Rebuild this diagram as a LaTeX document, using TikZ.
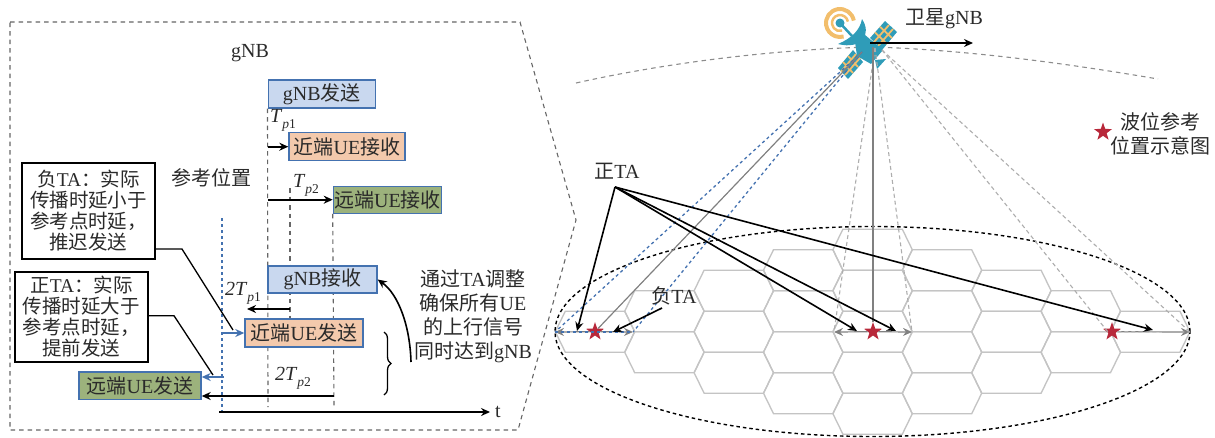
\documentclass[tikz,border=0pt]{standalone}
\usepackage{fontspec}
\setmainfont{Liberation Serif}
\newfontfamily\cjk{Noto Sans CJK SC}
\usetikzlibrary{arrows.meta,shapes.geometric,decorations.pathreplacing}
\definecolor{boxblue}{HTML}{4472B0}
\definecolor{fillblue}{HTML}{C9D8EF}
\definecolor{fillorange}{HTML}{F3C9AC}
\definecolor{fillgreen}{HTML}{9CB27C}
\definecolor{sat}{HTML}{2F9CB8}
\definecolor{satyellow}{HTML}{F2BE6C}
\definecolor{starred}{HTML}{B8283A}
\definecolor{ink}{HTML}{2A2A2A}
\newcommand{\zh}[1]{{\cjk #1}}
\newcommand{\tsub}[2]{\textit{T}\raisebox{-6pt}{\fontsize{13.5}{13.5}\selectfont\textit{#1}#2}}
\begin{document}
\begin{tikzpicture}
        [%%%%%%%%%%%%%%%%%%%%%%%%%%%%%%
            x=1pt,y=-1pt,
            txt/.style={text=ink,inner sep=0pt,align=center,font=\fontsize{20}{24}\selectfont},
            sigbox/.style={txt,draw=boxblue,line width=1.4pt,font=\fontsize{20}{21}\selectfont},
            notebox/.style={txt,draw=black,line width=1.4pt,font=\fontsize{19.5}{21}\selectfont},
            guide/.style={draw=black!60,dashed,line width=1.1pt,dash pattern=on 4.5pt off 4pt},
            beam/.style={draw=black!32,line width=1.1pt,dash pattern=on 4pt off 3pt},
            bluebeam/.style={draw=boxblue,line width=1.3pt,dash pattern=on 3pt off 3pt},
            tip/.style={-{Stealth[length=9pt,width=8pt]},line width=1.6pt,draw=black},
            bluetip/.style={-{Stealth[length=9pt,width=8pt]},line width=1.6pt,draw=boxblue},
            graytip/.style={-{Stealth[length=9pt,width=8pt]},line width=1.2pt,draw=black!50},
            refstar/.style={star,star points=5,star point ratio=2.5,fill=starred,minimum size=19pt,inner sep=0pt},
            hexcell/.pic={\draw[black!23,line width=1.35pt] (-39.7,0) -- (-29.7,-20.5) -- (29.7,-20.5) -- (39.7,0) -- (29.7,20.5) -- (-29.7,20.5) -- cycle;},
        ]%%%%%%%%%%%%%%%%%%%%%%%%%%%%%%
        \useasboundingbox (0,0) rectangle (1215,437);

        % left frame
        \draw[guide] (10,22) -- (520,22) -- (576,220) -- (518,430) -- (10,430) -- cycle;

        % time lines
        \node[sigbox,fill=fillblue,minimum width=107pt,minimum height=28pt] (gnbTx) at (321.7,94) {gNB\zh{发送}};
        \node[sigbox,fill=fillorange,minimum width=116pt,minimum height=28pt] (nearRx) at (347,146.7) {\zh{近端}UE\zh{接收}};
        \node[sigbox,fill=fillgreen,minimum width=108pt,minimum height=27pt] (farRx) at (387.4,199.7) {\zh{远端}UE\zh{接收}};

        \coordinate (refTop) at (222,218);
        \coordinate (refEnd) at (222,412);
        \coordinate (lineA) at (268,407);
        \coordinate (lineBtop) at (290,188);
        \coordinate (lineBend) at (290,319);
        \coordinate (lineC) at (334,407);
        \draw[bluebeam] (refTop) -- (refEnd);
        \draw[guide] (gnbTx.south west) -- (lineA);
        \draw[guide] (lineBtop) -- (lineBend);
        \draw[guide] (farRx.south west) -- (lineC);

        \node[sigbox,fill=fillblue,minimum width=109pt,minimum height=27pt] (gnbRx) at (322.5,279.5) {gNB\zh{接收}};
        \node[sigbox,fill=fillorange,minimum width=118pt,minimum height=28pt] (nearTx) at (304,333) {\zh{近端}UE\zh{发送}};
        \node[sigbox,fill=fillgreen,minimum width=122pt,minimum height=27.5pt] (farTx) at (140,385.7) {\zh{远端}UE\zh{发送}};

        \node[txt] (gnbLabel) at (250,53) {gNB};
        \node[txt] (refLabel) at (211,178) {\zh{参考位置}};
        \node[txt] (tpA) at (283,120) {\tsub{p}{1}};
        \node[txt] (tpB) at (306,185) {\tsub{p}{2}};
        \node[txt] (tpC) at (243,293) {\textit{2}\tsub{p}{1}};
        \node[txt] (tpD) at (293,378) {\textit{2}\tsub{p}{2}};
        \node[txt] (axisLabel) at (498,412) {t};

        \draw[tip] (lineA |- nearRx.west) -- (nearRx.west);
        \draw[tip] (lineA |- farRx.west) -- (farRx.west);
        \coordinate (backA) at (290,309);
        \coordinate (backAend) at (247,309);
        \draw[tip] (backA) -- (backAend);
        \coordinate (backB) at (334,396);
        \draw[tip] (backB) -- (backB -| farTx.east);
        \coordinate (farBlue) at (224,377);
        \draw[bluetip] (farBlue) -- (farBlue -| farTx.east);
        \draw[bluetip] (refTop |- nearTx.west) -- (nearTx.west);
        \coordinate (axisStart) at (219,412);
        \draw[tip,shorten >=5pt] (axisStart) -- (axisLabel.west);

        % notes on the two signs
        \node[notebox,fill=white,minimum width=133pt,minimum height=96pt] (lateNote) at (88.5,211) {\zh{负}TA\zh{：实际}\\\zh{传播时延小于}\\\zh{参考点时延，}\\\zh{推迟发送}};
        \node[notebox,fill=white,minimum width=133pt,minimum height=90pt] (earlyNote) at (81.5,317) {\zh{正}TA\zh{：实际}\\\zh{传播时延大于}\\\zh{参考点时延，}\\\zh{提前发送}};
        \coordinate (lateBend) at (182,249);
        \coordinate (lateEnd) at (233,330);
        \coordinate (earlyBend) at (174,315.7);
        \coordinate (earlyEnd) at (213,375);
        \draw[line width=1.3pt] (lateNote.east |- lateBend) -- (lateBend) -- (lateEnd);
        \draw[line width=1.3pt] (earlyNote.east |- earlyBend) -- (earlyBend) -- (earlyEnd);

        % brace and the curved arrow
        \coordinate (braceTop) at (384,332);
        \coordinate (braceEnd) at (384,395);
        \draw[line width=1.3pt,decorate,decoration={brace,amplitude=7pt}] (braceTop) -- (braceEnd);
        \coordinate (curveStart) at (411,362);
        \draw[tip] (curveStart) .. controls (410,325) and (398,294) .. (gnbRx.east);
        \node[txt] (adjustNote) at (473,316.5) {\zh{通过}TA\zh{调整}\\\zh{确保所有}UE\\\zh{的上行信号}\\\zh{同时达到}gNB};

        % hexagon cells
        \foreach \col/\rows in {0/1,1/2,2/3,3/4,4/5,5/4,6/3,7/2,8/1}{
            \foreach \row in {1,...,\rows}{
                \pgfmathsetmacro{\hx}{595+69.4*\col}
                \pgfmathsetmacro{\hy}{331.7+41*(\row-(\rows+1)/2)}
                \pic at (\hx,\hy) {hexcell};
            }
        }

        \draw[black,line width=1.4pt,dash pattern=on 3.5pt off 3pt] (872.5,331.5) ellipse [x radius=317.5pt,y radius=105pt];

        % orbit
        \coordinate (orbitL) at (576,83);
        \coordinate (orbitM) at (873,47);
        \coordinate (orbitR) at (1158,79);
        \draw[guide,black!45] (orbitL) .. controls (670,62) and (780,49) .. (orbitM) .. controls (970,50) and (1070,64) .. (orbitR);

        % satellite
        \fill[sat] (870,38) -- (885,21) -- (897,32) -- (882,50) -- cycle;
        \fill[sat] (838,68) -- (853,50) -- (863,62) -- (848,79) -- cycle;
        \draw[satyellow,line width=1.8pt] (875,32.4) -- (887,44) (880,26.8) -- (892,38) (874,42) -- (889,25) (878,46) -- (893,29);
        \draw[satyellow,line width=1.8pt] (843,62) -- (853,73) (848,56) -- (858,67) (841,71.6) -- (856,54) (845,75) -- (860,58);
        \fill[sat] (855,42) -- (865,35) -- (883,50) -- (871,64) -- (857,56) -- cycle;
        \fill[sat] (875,60) -- (886,59) -- (877,69) -- cycle;
        \draw[satyellow,line width=4pt] (840,23) ++(10:14pt) arc (10:285:14pt);
        \draw[satyellow,line width=2.5pt] (840,23) ++(10:8pt) arc (10:285:8pt);
        \fill[sat] (838,44) .. controls (852,38) and (860,30) .. (862,19) .. controls (872,34) and (862,50) .. (838,44) -- cycle;
        \fill[sat] (840,23) circle (4.5pt);
        \draw[sat,line width=2.5pt] (840,23) -- (852,36);

        \node[refstar] (starA) at (595,331.7) {};
        \node[refstar] (starB) at (873,331.7) {};
        \node[refstar] (starC) at (1112,331.7) {};

        % beams
        \coordinate (apexA) at (862,52);
        \coordinate (apexB) at (875,48);
        \coordinate (apexC) at (882,50);
        \coordinate (edgeA) at (555,332);
        \coordinate (edgeB) at (633,332);
        \coordinate (edgeC) at (834,332);
        \coordinate (edgeD) at (912,332);
        \coordinate (edgeE) at (1108,332);
        \coordinate (edgeF) at (1190,332);
        \draw[bluebeam] (apexA) -- (edgeA);
        \draw[bluebeam] (apexA) -- (edgeB);
        \draw[black!50,line width=1.2pt] (apexA) -- (starA);
        \draw[beam] (apexB) -- (edgeC);
        \draw[beam] (apexB) -- (edgeD);
        \draw[black!50,line width=2pt] (orbitM) -- (starB);
        \draw[beam] (apexC) -- (edgeE);
        \draw[beam] (apexC) -- (edgeF);

        \draw[graytip] (starA) -- (edgeA);
        \draw[graytip] (starA) -- (edgeB);
        \draw[bluebeam] (edgeA) -- (edgeB);
        \draw[graytip] (starB) -- (edgeC);
        \draw[graytip] (starB) -- (edgeD);
        \draw[graytip] (starC) -- (edgeF);
        \draw[beam] (starC) -- (edgeF);

        % labels on the right
        \node[txt] (satLabel) at (944,19) {\zh{卫星}gNB};
        \coordinate (satCore) at (870,43);
        \coordinate (satHead) at (973,43);
        \draw[tip,line width=2pt] (satCore) -- (satHead);
        \node[refstar] (starKey) at (1103,132) {};
        \node[txt] (keyLabel) at (1160,134) {\zh{波位参考}\\\zh{位置示意图}};

        \node[txt] (posTA) at (617,171) {\zh{正}TA};
        \node[txt] (negTA) at (674,296) {\zh{负}TA};
        \coordinate (posFoot) at (615,187);
        \coordinate (posEndA) at (577,331);
        \coordinate (posEndB) at (857,331);
        \coordinate (posEndC) at (896,331);
        \coordinate (posEndD) at (1153,330);
        \coordinate (negFoot) at (662,308);
        \coordinate (negEnd) at (613,332);
        \foreach \tgt in {posEndA,posEndB,posEndC,posEndD}{
            \draw[tip] (posFoot) -- (\tgt);
        }
        \draw[tip] (negFoot) -- (negEnd);
    \end{tikzpicture}
\end{document}
